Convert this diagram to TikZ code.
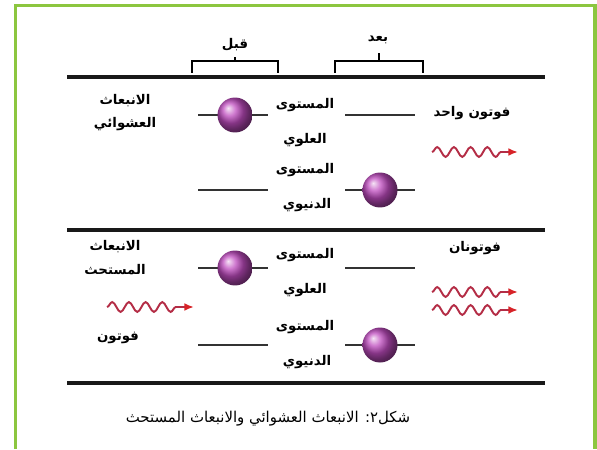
\documentclass[tikz,border=0pt]{standalone}
\usepackage{fontspec}
\usetikzlibrary{decorations.pathmorphing,arrows.meta}
\TeXXeTstate=1
\newfontfamily\arabicfont[Script=Arabic]{DejaVu Sans}
\newcommand{\artxt}[1]{\beginR #1\endR}
\definecolor{framegreen}{RGB}{140,198,63}
\definecolor{atomcol}{RGB}{190,75,190}
\definecolor{wavecol}{RGB}{180,45,70}
\definecolor{tipcol}{RGB}{215,35,40}
\tikzset{
  bar/.style={line width=2pt, black!90},
  level/.style={line width=1pt, black!80},
  atom/.style={circle, minimum size=0.7cm, inner sep=0pt, shading=ball, ball color=atomcol},
  photon/.style={wavecol, line width=1.1pt, decorate,
    decoration={snake, amplitude=2.8pt, segment length=9.5pt, post length=9pt},
    -{Latex[length=5.5pt,width=4.5pt,color=tipcol]}},
  lbl/.style={font=\arabicfont\bfseries\fontsize{7.6}{9}\selectfont, inner sep=1pt},
  caption/.style={font=\arabicfont\fontsize{8.5}{10}\selectfont}
}
\begin{document}
\begin{tikzpicture}[x=0.02cm, y=-0.02cm]
\useasboundingbox (0,0) rectangle (597,449);

% frame
\draw[framegreen, line width=1.8pt] (15.5,449) -- (15.5,5.5) -- (595,5.5) -- (595,449);

% brackets
\draw[line width=0.8pt] (192,73) -- (192,61) -- (278,61) -- (278,73)
  (235,61) -- (235,57);
\draw[line width=0.8pt] (335,73) -- (335,61) -- (423,61) -- (423,73)
  (379,61) -- (379,53);
\node[lbl] (before) at (235,45) {\artxt{قبل}};
\node[lbl] (after) at (378,40) {\artxt{بعد}};

% bars
\draw[bar] (67,77) -- (545,77);
\draw[bar] (67,230) -- (545,230);
\draw[bar] (67,383) -- (545,383);

% top panel: spontaneous
\coordinate (a1) at (198,115); \coordinate (b1) at (268,115);
\coordinate (a2) at (198,190); \coordinate (b2) at (268,190);
\coordinate (c1) at (345,115); \coordinate (d1) at (415,115);
\coordinate (c2) at (345,190); \coordinate (d2) at (415,190);
\draw[level] (a1) -- (b1);
\draw[level] (a2) -- (b2);
\draw[level] (c1) -- (d1);
\draw[level] (c2) -- (d2);
\node[atom] (atomup) at (235,115) {};
\node[atom] (atomdown) at (380,190) {};

\node[lbl] (spont1) at (125,101) {\artxt{الانبعاث}};
\node[lbl] (spont2) at (125,124) {\artxt{العشوائي}};
\node[lbl] (up1) at (305,105) {\artxt{المستوى}};
\node[lbl] (up2) at (305,140) {\artxt{العلوي}};
\node[lbl] (low1) at (305,170) {\artxt{المستوى}};
\node[lbl] (low2) at (307,205) {\artxt{الدنيوي}};
\node[lbl] (one) at (472,113) {\artxt{فوتون واحد}};

\coordinate (w1s) at (432,152); \coordinate (w1e) at (518,152);
\draw[photon] (w1s) -- (w1e);

% bottom panel: stimulated
\coordinate (a3) at (198,268); \coordinate (b3) at (268,268);
\coordinate (a4) at (198,345); \coordinate (b4) at (268,345);
\coordinate (c3) at (345,268); \coordinate (d3) at (415,268);
\coordinate (c4) at (345,345); \coordinate (d4) at (415,345);
\draw[level] (a3) -- (b3);
\draw[level] (a4) -- (b4);
\draw[level] (c3) -- (d3);
\draw[level] (c4) -- (d4);
\node[atom] (atomup2) at (235,268) {};
\node[atom] (atomdown2) at (380,345) {};

\node[lbl] (stim1) at (115,247) {\artxt{الانبعاث}};
\node[lbl] (stim2) at (115,270) {\artxt{المستحث}};
\node[lbl] (inph) at (118,338) {\artxt{فوتون}};
\node[lbl] (up3) at (305,255) {\artxt{المستوى}};
\node[lbl] (up4) at (305,290) {\artxt{العلوي}};
\node[lbl] (low3) at (305,327) {\artxt{المستوى}};
\node[lbl] (low4) at (307,362) {\artxt{الدنيوي}};
\node[lbl] (two) at (475,248) {\artxt{فوتونان}};

\coordinate (w2s) at (107,307); \coordinate (w2e) at (194,307);
\coordinate (w3s) at (432,292); \coordinate (w3e) at (518,292);
\coordinate (w4s) at (432,310); \coordinate (w4e) at (518,310);
\draw[photon] (w2s) -- (w2e);
\draw[photon] (w3s) -- (w3e);
\draw[photon] (w4s) -- (w4e);

% caption
\node[caption] (cap) at (268,419) {\artxt{شكل٢: الانبعاث العشوائي والانبعاث المستحث}};

\end{tikzpicture}
\end{document}
